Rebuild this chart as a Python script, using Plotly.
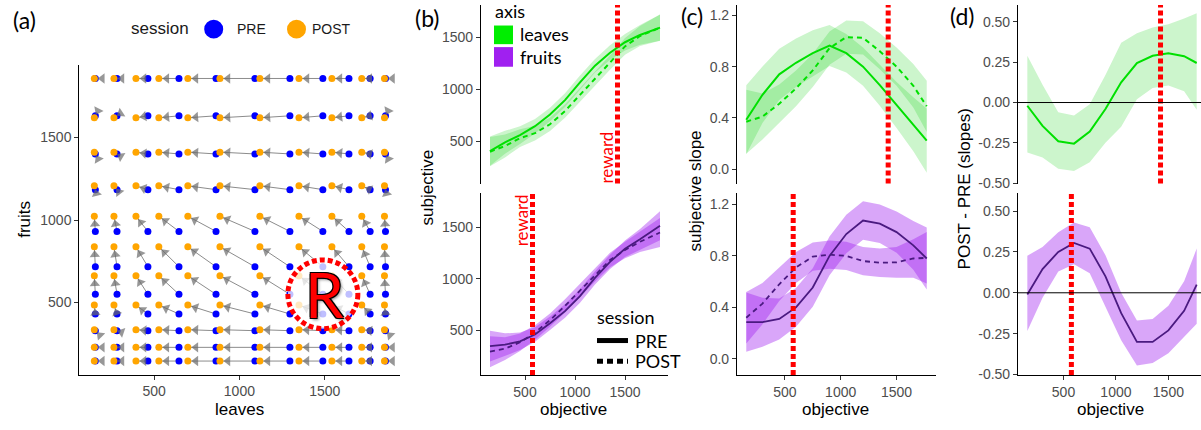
import plotly.graph_objects as go

W, H = 1201, 430
def fx(p): return p / W
def fy(p): return 1 - p / H

TICKF = "Liberation Sans, Arial, sans-serif"
PPT = "Lato, Open Sans, sans-serif"

# ---------------- panel (a): grid of PRE / POST estimates ----------------
leaves_pre_cols = [156, 283, 464, 646, 863, 1091, 1296, 1489, 1642, 1766, 1856]
leaves_post_cols = [150, 265, 394, 528, 698, 886, 1120, 1349, 1542, 1717, 1850]
fruits_pre_rows = [1857, 1631, 1400, 1184, 931, 717, 550, 431, 330, 229, 146]
fruits_post_rows = [1857, 1619, 1411, 1207, 1023, 838, 663, 485, 336, 229, 146]
reward_center = (1489, 550)

# ---------------- panel (b): subjective vs objective ----------------
obj_b = [150, 300, 450, 600, 750, 900, 1050, 1200, 1350, 1500, 1650, 1850]
b_leaves_pre = [406, 490, 560, 645, 757, 895, 1065, 1225, 1350, 1450, 1520, 1590]
b_leaves_post = [400, 455, 530, 578, 663, 790, 945, 1100, 1255, 1410, 1510, 1590]
b_leaves_ci = [140, 110, 85, 70, 65, 65, 65, 65, 70, 80, 95, 125]
b_fruits_pre = [348, 362, 395, 460, 570, 688, 834, 1010, 1165, 1292, 1385, 1516]
b_fruits_post = [294, 323, 385, 480, 600, 738, 887, 1040, 1183, 1280, 1360, 1450]
b_fruits_ci = [150, 110, 85, 70, 65, 65, 65, 65, 70, 80, 100, 140]

# ---------------- panel (c): subjective slope ----------------
obj_cd = [155, 300, 450, 600, 750, 900, 1050, 1200, 1350, 1500, 1650, 1770]
c_leaves_pre = [0.385, 0.58, 0.74, 0.83, 0.905, 0.965, 0.905, 0.80, 0.655, 0.50, 0.35, 0.222]
c_leaves_post = [0.37, 0.41, 0.51, 0.63, 0.77, 0.945, 1.03, 1.025, 0.92, 0.80, 0.65, 0.49]
c_leaves_pre_ci = [0.27, 0.22, 0.20, 0.19, 0.18, 0.16, 0.15, 0.15, 0.16, 0.18, 0.21, 0.25]
c_leaves_post_ci = [0.25, 0.18, 0.15, 0.14, 0.13, 0.13, 0.13, 0.13, 0.14, 0.15, 0.17, 0.20]
c_fruits_pre = [0.285, 0.285, 0.31, 0.40, 0.555, 0.80, 0.97, 1.075, 1.05, 0.985, 0.882, 0.78]
c_fruits_post = [0.32, 0.43, 0.58, 0.71, 0.795, 0.81, 0.80, 0.76, 0.747, 0.75, 0.78, 0.785]
c_fruits_pre_ci = [0.23, 0.19, 0.16, 0.15, 0.15, 0.15, 0.15, 0.15, 0.15, 0.16, 0.19, 0.24]
c_fruits_post_ci = [0.20, 0.16, 0.13, 0.12, 0.11, 0.11, 0.11, 0.11, 0.11, 0.12, 0.15, 0.20]

# ---------------- panel (d): POST - PRE (slopes) ----------------
d_leaves = [-0.02, -0.145, -0.24, -0.255, -0.18, -0.04, 0.125, 0.245, 0.29, 0.306, 0.287, 0.245]
d_leaves_hi = [0.29, 0.11, -0.06, -0.08, -0.01, 0.17, 0.37, 0.43, 0.465, 0.485, 0.52, 0.553]
d_leaves_lo = [-0.31, -0.34, -0.41, -0.425, -0.37, -0.25, -0.15, 0.02, 0.09, 0.105, 0.07, -0.045]
d_fruits = [-0.01, 0.145, 0.25, 0.305, 0.27, 0.10, -0.125, -0.30, -0.30, -0.23, -0.11, 0.05]
d_fruits_hi = [0.226, 0.28, 0.37, 0.43, 0.40, 0.23, 0.0, -0.17, -0.16, -0.08, 0.07, 0.27]
d_fruits_lo = [-0.234, -0.03, 0.13, 0.175, 0.12, -0.09, -0.29, -0.445, -0.43, -0.37, -0.27, -0.19]

reward_leaves = 1425
reward_fruits = 575

GREEN_LINE = "#00E000"
GREEN_FILL = "rgba(0,205,0,0.2)"
PURPLE_LINE = "#4A1A80"
PURPLE_FILL = "rgba(160,32,240,0.4)"
BLUE = "#0000FF"
ORANGE = "#FFA500"

fig = go.Figure()

# ---- panel (a) ----
lx, ly, hx, hy, hs = [], [], [], [], []
px_pre, py_pre, px_post, py_post = [], [], [], []
for ypre, ypost in zip(fruits_pre_rows, fruits_post_rows):
    for xpre, xpost in zip(leaves_pre_cols, leaves_post_cols):
        lx += [xpre, xpost, None]
        ly += [ypre, ypost, None]
        hx += [xpre, xpost]
        hy += [ypre, ypost]
        moved = (xpre != xpost) or (ypre != ypost)
        hs += [0, 9 if moved else 0]
        px_pre.append(xpre); py_pre.append(ypre)
        px_post.append(xpost); py_post.append(ypost)

fig.add_trace(go.Scatter(x=lx, y=ly, mode="lines", line=dict(color="#8c8c8c", width=1),
                         xaxis="x", yaxis="y", hoverinfo="skip", showlegend=False))
fig.add_trace(go.Scatter(x=px_pre, y=py_pre, mode="markers", name="PRE",
                         marker=dict(color=BLUE, size=7), xaxis="x", yaxis="y", showlegend=False))
fig.add_trace(go.Scatter(x=px_post, y=py_post, mode="markers", name="POST",
                         marker=dict(color=ORANGE, size=7), xaxis="x", yaxis="y", showlegend=False))
fig.add_trace(go.Scatter(x=hx, y=hy, mode="markers",
                         marker=dict(symbol="triangle-up", size=hs, color="#6b6b6b",
                                     angleref="previous", standoff=8, line=dict(width=0)),
                         xaxis="x", yaxis="y", hoverinfo="skip", showlegend=False))

def band(x, lo, hi, fill, xa, ya):
    fig.add_trace(go.Scatter(x=list(x) + list(x)[::-1], y=list(hi) + list(lo)[::-1],
                             fill="toself", fillcolor=fill, line=dict(width=0), mode="lines",
                             xaxis=xa, yaxis=ya, hoverinfo="skip", showlegend=False))

def line(x, y, color, width, dash, xa, ya, name):
    fig.add_trace(go.Scatter(x=x, y=y, mode="lines", name=name,
                             line=dict(color=color, width=width, dash=dash),
                             xaxis=xa, yaxis=ya, showlegend=False))

def ci(y, h):
    return [a - b for a, b in zip(y, h)], [a + b for a, b in zip(y, h)]

DASH = "5px,4px"

# ---- panel (b) ----
for y, h in [(b_leaves_pre, b_leaves_ci), (b_leaves_post, b_leaves_ci)]:
    lo, hi = ci(y, h); band(obj_b, lo, hi, GREEN_FILL, "x2", "y2")
line(obj_b, b_leaves_pre, GREEN_LINE, 2, "solid", "x2", "y2", "leaves PRE")
line(obj_b, b_leaves_post, GREEN_LINE, 2, DASH, "x2", "y2", "leaves POST")
for y, h in [(b_fruits_pre, b_fruits_ci), (b_fruits_post, b_fruits_ci)]:
    lo, hi = ci(y, h); band(obj_b, lo, hi, PURPLE_FILL, "x3", "y3")
line(obj_b, b_fruits_pre, PURPLE_LINE, 1.8, "solid", "x3", "y3", "fruits PRE")
line(obj_b, b_fruits_post, PURPLE_LINE, 1.8, DASH, "x3", "y3", "fruits POST")

# ---- panel (c) ----
for y, h in [(c_leaves_pre, c_leaves_pre_ci), (c_leaves_post, c_leaves_post_ci)]:
    lo, hi = ci(y, h); band(obj_cd, lo, hi, GREEN_FILL, "x4", "y4")
line(obj_cd, c_leaves_pre, GREEN_LINE, 2, "solid", "x4", "y4", "leaves PRE")
line(obj_cd, c_leaves_post, GREEN_LINE, 2, DASH, "x4", "y4", "leaves POST")
for y, h in [(c_fruits_pre, c_fruits_pre_ci), (c_fruits_post, c_fruits_post_ci)]:
    lo, hi = ci(y, h); band(obj_cd, lo, hi, PURPLE_FILL, "x5", "y5")
line(obj_cd, c_fruits_pre, PURPLE_LINE, 1.8, "solid", "x5", "y5", "fruits PRE")
line(obj_cd, c_fruits_post, PURPLE_LINE, 1.8, DASH, "x5", "y5", "fruits POST")

# ---- panel (d) ----
band(obj_cd, d_leaves_lo, d_leaves_hi, GREEN_FILL, "x6", "y6")
line(obj_cd, d_leaves, GREEN_LINE, 2, "solid", "x6", "y6", "leaves")
band(obj_cd, d_fruits_lo, d_fruits_hi, PURPLE_FILL, "x7", "y7")
line(obj_cd, d_fruits, PURPLE_LINE, 1.8, "solid", "x7", "y7", "fruits")

# ---------------- axes ----------------
common = dict(showline=True, linecolor="black", linewidth=1.1, ticks="outside", ticklen=4,
              tickwidth=1, tickcolor="#333333", showgrid=False, zeroline=False,
              tickfont=dict(family=TICKF, size=14, color="#4D4D4D"))
k_vals = [500, 1000, 1500]
k_text = ["500", "1000", "1500"]
s_vals = [0, 0.4, 0.8, 1.2]
s_text = ["0.0", "0.4", "0.8", "1.2"]
d_vals = [-0.5, -0.25, 0, 0.25, 0.5]
d_text = ["-0.50", "-0.25", "0.00", "0.25", "0.50"]

hidden = dict(visible=False, showgrid=False, zeroline=False)

fig.update_layout(
    xaxis=dict(domain=[fx(79.3), fx(400)], range=[62, 1941], anchor="y",
               tickvals=k_vals, ticktext=k_text, **common),
    yaxis=dict(domain=[fy(381.7), fy(66)], range=[64, 1940], anchor="x",
               tickvals=k_vals, ticktext=k_text, **common),
    xaxis2=dict(domain=[fx(481), fx(668)], range=[60, 1930], anchor="y2", **hidden),
    yaxis2=dict(domain=[fy(187), fy(5)], range=[95, 1808], anchor="x2",
                tickvals=k_vals, ticktext=k_text, **common),
    xaxis3=dict(domain=[fx(481), fx(668)], range=[60, 1930], anchor="y3",
                tickvals=k_vals, ticktext=k_text, **common),
    yaxis3=dict(domain=[fy(382), fy(197)], range=[69, 1830], anchor="x3",
                tickvals=k_vals, ticktext=k_text, **common),
    xaxis4=dict(domain=[fx(737), fx(936)], range=[72, 1853], anchor="y4", **hidden),
    yaxis4=dict(domain=[fy(187), fy(5)], range=[-0.113, 1.282], anchor="x4",
                tickvals=s_vals, ticktext=s_text, **common),
    xaxis5=dict(domain=[fx(737), fx(936)], range=[72, 1853], anchor="y5",
                tickvals=k_vals, ticktext=k_text, **common),
    yaxis5=dict(domain=[fy(382), fy(197)], range=[-0.124, 1.286], anchor="x5",
                tickvals=s_vals, ticktext=s_text, **common),
    xaxis6=dict(domain=[fx(1018), 1.0], range=[66, 1811], anchor="y6", **hidden),
    yaxis6=dict(domain=[fy(187), fy(5)], range=[-0.502, 0.605], anchor="x6",
                tickvals=d_vals, ticktext=d_text, **common),
    xaxis7=dict(domain=[fx(1018), 1.0], range=[66, 1811], anchor="y7",
                tickvals=k_vals, ticktext=k_text, **common),
    yaxis7=dict(domain=[fy(382), fy(197)], range=[-0.502, 0.608], anchor="x7",
                tickvals=d_vals, ticktext=d_text, **common),
)

# ---------------- shapes ----------------
shapes = []
RED_DOT = dict(color="#FF0000", width=5, dash="5px,3px")
for xa, ya, xv in [("x2", "y2", reward_leaves), ("x4", "y4", reward_leaves), ("x6", "y6", reward_leaves),
                   ("x3", "y3", reward_fruits), ("x5", "y5", reward_fruits), ("x7", "y7", reward_fruits)]:
    shapes.append(dict(type="line", xref=xa, yref=ya + " domain", x0=xv, x1=xv, y0=0, y1=1, line=RED_DOT))
for xa, ya in [("x6", "y6"), ("x7", "y7")]:
    shapes.append(dict(type="line", xref=xa + " domain", yref=ya, x0=0, x1=1, y0=0, y1=0,
                       line=dict(color="black", width=1)))
# reward circle in (a)
rx, ry = 205, 208
shapes.append(dict(type="circle", xref="x", yref="y",
                   x0=reward_center[0] - rx, x1=reward_center[0] + rx,
                   y0=reward_center[1] - ry, y1=reward_center[1] + ry,
                   fillcolor="rgba(255,255,255,0.75)", line=dict(color="#FF0000", width=5, dash="5px,3px")))
# legend (a) circles
for cx, col in [(213.7, BLUE), (296.5, ORANGE)]:
    shapes.append(dict(type="circle", xref="paper", yref="paper",
                       x0=fx(cx - 9.5), x1=fx(cx + 9.5), y0=fy(29.7 + 9.5), y1=fy(29.7 - 9.5),
                       fillcolor=col, line=dict(width=0)))
# legend (b) squares
shapes.append(dict(type="rect", xref="paper", yref="paper", x0=fx(494), x1=fx(513), y0=fy(45), y1=fy(26),
                   fillcolor="#00EE00", line=dict(width=0)))
shapes.append(dict(type="rect", xref="paper", yref="paper", x0=fx(494), x1=fx(513), y0=fy(68), y1=fy(48),
                   fillcolor="#A020F0", line=dict(width=0)))
# legend (b) session lines
shapes.append(dict(type="line", xref="paper", yref="paper", x0=fx(597), x1=fx(628), y0=fy(347), y1=fy(347),
                   line=dict(color="black", width=5)))
shapes.append(dict(type="line", xref="paper", yref="paper", x0=fx(597), x1=fx(628), y0=fy(368), y1=fy(368),
                   line=dict(color="black", width=5, dash="6px,4px")))

# ---------------- annotations ----------------
ann = []
def text(t, x, y, size, family=PPT, color="black", xanchor="center", angle=0, **kw):
    ann.append(dict(text=t, x=fx(x), y=fy(y), xref="paper", yref="paper", showarrow=False,
                    xanchor=xanchor, yanchor="middle", textangle=angle,
                    font=dict(family=family, size=size, color=color, **kw)))

for lab, x, y in [("(a)", 24, 20), ("(b)", 427, 18), ("(c)", 692, 16), ("(d)", 962, 16)]:
    text(lab, x, y, 23)

# axis titles
text("leaves", 239, 417, 17, family=TICKF)
text("fruits", 25, 224, 17, family=TICKF, angle=-90)
text("subjective", 427, 191, 17, family=TICKF, angle=-90)
text("subjective slope", 695, 194, 17, family=TICKF, angle=-90)
text("POST - PRE (slopes)", 964, 193, 17, family=TICKF, angle=-90)
for x in [573, 835, 1110]:
    text("objective", x, 417, 17, family=TICKF)

# legend (a)
text("session", 160, 29.5, 17, family=TICKF, color="#1a1a1a")
text("PRE", 235, 29.5, 14, family=TICKF, color="#1a1a1a", xanchor="left")
text("POST", 310, 29.5, 14, family=TICKF, color="#1a1a1a", xanchor="left")

# legend (b) axis
text("axis", 493, 11, 18, xanchor="left")
text("leaves", 518, 35, 18, xanchor="left")
text("fruits", 518, 58, 18, xanchor="left")

# legend (b) session
text("session", 595, 323, 18, xanchor="left")
text("PRE", 633, 347, 18, xanchor="left")
text("POST", 633, 368, 18, xanchor="left")

# reward labels
text("reward", 606.5, 161, 17, color="#FF0000", angle=-90)
text("reward", 521.5, 225, 17, color="#FF0000", angle=-90)

# big R
text("R", 324, 300, 62, color="#FF0000",
     shadow="-1px -1px 0 #000, 1px -1px 0 #000, -1px 1px 0 #000, 1px 1px 0 #000, 2px 2px 3px rgba(0,0,0,0.45)")

fig.update_layout(
    width=W, height=H, margin=dict(l=0, r=0, t=0, b=0),
    paper_bgcolor="white", plot_bgcolor="white",
    shapes=shapes, annotations=ann, showlegend=False,
)

fig.write_html("out.html", config={"displayModeBar": False},
               post_script="document.body.style.margin='0';")
